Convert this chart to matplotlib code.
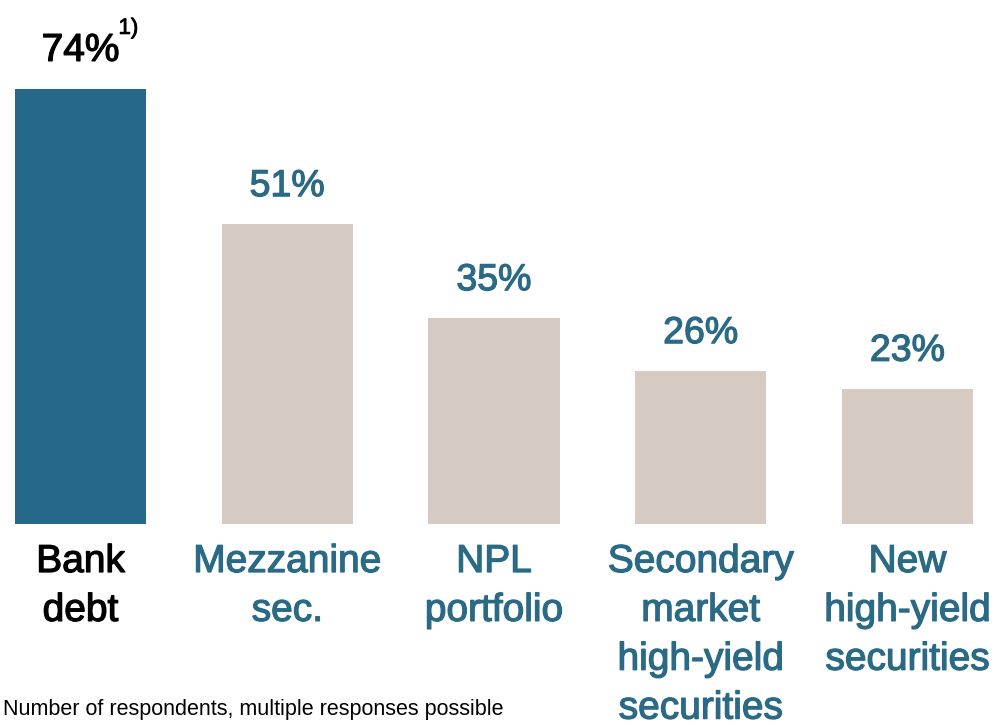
import matplotlib.pyplot as plt
import matplotlib.patheffects as pe

categories = ["Bank\ndebt", "Mezzanine\nsec.", "NPL\nportfolio",
              "Secondary\nmarket\nhigh-yield\nsecurities", "New\nhigh-yield\nsecurities"]
values = [74, 51, 35, 26, 23]
value_labels = ["74%", "51%", "35%", "26%", "23%"]
footnote_mark = "1)"
note = "Number of respondents, multiple responses possible"

plt.rcParams['font.family'] = ["Liberation Sans", "DejaVu Sans"]

teal = "#25688a"
beige = "#d6cbc2"
text_teal = "#2a6a85"

fig = plt.figure(figsize=(9.95, 7.25), dpi=100)
# axes spans the whole width; baseline of the bars sits 201 px above the bottom
ax = fig.add_axes([0, 201 / 725, 1, 524 / 725])

x = list(range(len(values)))
colors = [teal] + [beige] * (len(values) - 1)
ax.bar(x, values, width=0.634, color=colors)
ax.set_xlim(-80.5 / 206.75, (995 - 80.5) / 206.75)
ax.set_ylim(0, 524 / 5.88)
ax.axis("off")


def heavy(col, w=0.9):
    # thicken the regular face a little
    return [pe.withStroke(linewidth=w, foreground=col)]


for i, (v, lab) in enumerate(zip(values, value_labels)):
    col = "black" if i == 0 else text_teal
    ax.annotate(lab, (i, v), xytext=(0, 28), textcoords="offset pixels",
                ha="center", va="baseline", fontsize=27 if i else 28,
                color=col, path_effects=heavy(col))
    ax.annotate(categories[i], (i, 0), xytext=(0, -20), textcoords="offset pixels",
                ha="center", va="top", fontsize=28, color=col,
                linespacing=1.46, path_effects=heavy(col))

# footnote marker next to the first value label
ax.annotate(footnote_mark, (0, values[0]), xytext=(38, 55), textcoords="offset pixels",
            ha="left", va="baseline", fontsize=16, color="black",
            path_effects=heavy("black", 0.6))

fig.text(3 / 995, 1 - 715 / 725, note, fontsize=15.5, color="black",
         ha="left", va="baseline")

fig.savefig("out.png", dpi=100)
